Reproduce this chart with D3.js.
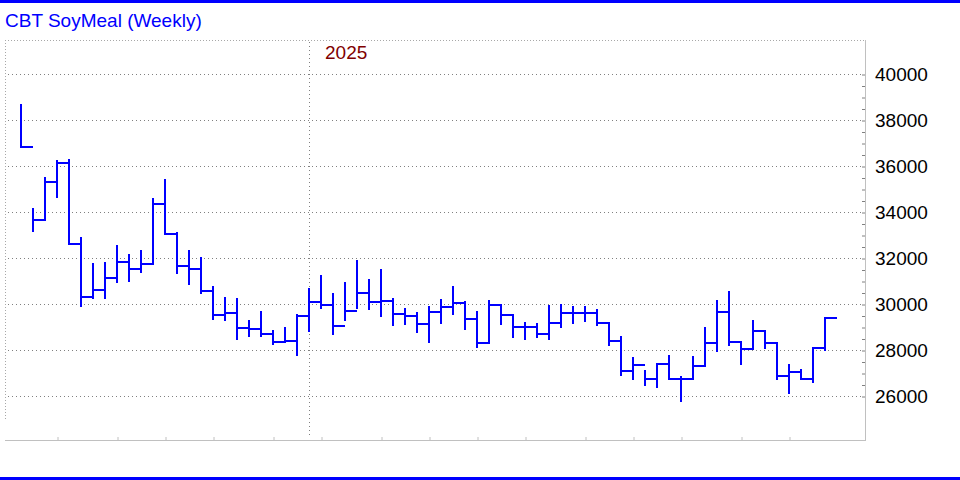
<!DOCTYPE html>
<html>
<head>
<meta charset="utf-8">
<script src="https://cdn.jsdelivr.net/npm/d3@7"></script>
<style>
  html, body { margin: 0; padding: 0; background: #ffffff; }
  svg { display: block; }
  text { font-family: "Liberation Sans", Arial, sans-serif; }
</style>
</head>
<body>
<svg id="chart" width="960" height="480"></svg>
<script>
// ---- data (weekly bars, week ending Friday) ----
const weekEnding = [
  "2024-07-12","2024-07-19","2024-07-26","2024-08-02","2024-08-09","2024-08-16","2024-08-23","2024-08-30",
  "2024-09-06","2024-09-13","2024-09-20","2024-09-27","2024-10-04","2024-10-11","2024-10-18","2024-10-25",
  "2024-11-01","2024-11-08","2024-11-15","2024-11-22","2024-11-29","2024-12-06","2024-12-13","2024-12-20",
  "2024-12-27","2025-01-03","2025-01-10","2025-01-17","2025-01-24","2025-01-31","2025-02-07","2025-02-14",
  "2025-02-21","2025-02-28","2025-03-07","2025-03-14","2025-03-21","2025-03-28","2025-04-04","2025-04-11",
  "2025-04-18","2025-04-25","2025-05-02","2025-05-09","2025-05-16","2025-05-23","2025-05-30","2025-06-06",
  "2025-06-13","2025-06-20","2025-06-27","2025-07-04","2025-07-11","2025-07-18","2025-07-25","2025-08-01",
  "2025-08-08","2025-08-15","2025-08-22","2025-08-29","2025-09-05","2025-09-12","2025-09-19","2025-09-26",
  "2025-10-03","2025-10-10","2025-10-17","2025-10-24"
];
const highs = [
  38650,34130,35470,36220,36260,32860,31730,31770,32520,32130,32300,34570,35390,33070,32300,31990,
  30730,30250,30200,29250,29640,28840,28940,29510,30650,31220,30440,30910,31860,31030,31470,30230,
  29770,29600,29880,30160,30730,30070,29650,30140,29970,29540,29170,29130,29910,29960,29860,29870,
  29750,29190,28550,27640,27070,27410,27730,26810,27680,28940,30120,30510,28360,29250,28840,28290,
  27340,27120,28100,29400
];
const lows = [
  36840,33190,33650,34670,32610,29930,30250,30250,30970,31010,31380,31750,33060,31360,30860,30470,
  29340,29290,28490,28620,28620,28270,28360,27800,28840,29840,28710,29320,29840,29800,29490,29100,
  29140,28800,28360,29190,29580,28930,28140,28320,29140,28580,28490,28550,28490,28990,29190,29270,
  29090,28230,26900,26730,26470,26400,26750,25800,26750,27300,27940,28200,27380,28060,28100,26730,
  26140,26750,26600,27990
];
const closes = [
  36840,33650,35320,36140,32610,30320,30620,31140,31840,31540,31750,34360,33060,31670,31540,30580,
  29540,29620,28970,28930,28710,28360,28390,29470,30090,29970,29060,29710,30490,30100,30140,29580,
  29490,29140,29670,29880,30030,29360,28320,29970,29540,29010,29010,28710,29190,29620,29620,29600,
  29190,28400,27100,27360,26750,27400,26750,26750,27300,28320,29670,28360,28060,28840,28290,26880,
  27060,26750,28100,29400
];
const priceTicks = [26000, 28000, 30000, 32000, 34000, 36000, 38000, 40000];
const priceTickLabels = ["26000","28000","30000","32000","34000","36000","38000","40000"];
const minorStep = 500;
const title = "CBT SoyMeal (Weekly)";
const yearLabel = "2025";

// ---- layout ----
const W = 960, H = 480;
const plot = { left: 5, right: 865, top: 40, bottom: 440 };
const FONT = "19px";

const svg = d3.select("#chart");

const x = d3.scalePoint().domain(weekEnding).range([21, 825]);
const step = x.step();
const y = d3.scaleLinear().domain([26000, 40000]).range([396, 74]);

// blue frame lines
svg.append("rect").attr("x", 0).attr("y", 0).attr("width", W).attr("height", 3).attr("fill", "#0000ff");
svg.append("rect").attr("x", 0).attr("y", 477).attr("width", W).attr("height", 3).attr("fill", "#0000ff");

// title
svg.append("text").attr("x", 5).attr("y", 27)
  .attr("font-size", FONT).attr("fill", "#0000ff").text(title);

// dotted plot border (top + left)
svg.append("line").attr("x1", plot.left).attr("x2", plot.right).attr("y1", 40.5).attr("y2", 40.5)
  .attr("stroke", "#a8a8a8").attr("stroke-dasharray", "1,2");
svg.append("line").attr("x1", 5.5).attr("x2", 5.5).attr("y1", plot.top).attr("y2", 421)
  .attr("stroke", "#a8a8a8").attr("stroke-dasharray", "1,2");

// horizontal grid
svg.append("g").selectAll("line").data(priceTicks).join("line")
  .attr("x1", 8).attr("x2", 862)
  .attr("y1", d => Math.round(y(d)) + 0.5).attr("y2", d => Math.round(y(d)) + 0.5)
  .attr("stroke", "#808080").attr("stroke-dasharray", "1,3");

// year separator
const parse = d3.timeParse("%Y-%m-%d");
const dates = weekEnding.map(parse);
const firstNewYear = dates.findIndex(d => d.getFullYear() === 2025);
const lastOldYear = weekEnding[firstNewYear - 1];
svg.append("line")
  .attr("x1", Math.round(x(lastOldYear)) + 0.5).attr("x2", Math.round(x(lastOldYear)) + 0.5)
  .attr("y1", 42).attr("y2", 437)
  .attr("stroke", "#808080").attr("stroke-dasharray", "1,3");
svg.append("text").attr("x", x(weekEnding[firstNewYear]) + 4).attr("y", 59)
  .attr("font-size", FONT).attr("fill", "#800000").text(yearLabel);

// axes lines
svg.append("line").attr("x1", plot.left).attr("x2", plot.right + 0.5).attr("y1", 440.5).attr("y2", 440.5)
  .attr("stroke", "#c0c0c0");
svg.append("line").attr("x1", 865.5).attr("x2", 865.5).attr("y1", plot.top).attr("y2", 441)
  .attr("stroke", "#c0c0c0");

// month ticks on bottom axis
const monthTicks = weekEnding.filter((d, i) => i > 0 && dates[i].getMonth() !== dates[i - 1].getMonth());
const xAxis = svg.append("g").attr("transform", "translate(0.5,440)")
  .call(d3.axisTop(x).tickValues(monthTicks).tickSize(3).tickFormat(""));
xAxis.select(".domain").remove();
xAxis.selectAll("line").attr("stroke", "#c0c0c0");

// right axis minor ticks
const minorTicks = d3.range(priceTicks[0], priceTicks[priceTicks.length - 1] + 1, minorStep);
const yMinor = svg.append("g").attr("transform", "translate(865,0.5)")
  .call(d3.axisLeft(y).tickValues(minorTicks).tickSize(3).tickFormat(""));
yMinor.select(".domain").remove();
yMinor.selectAll("line").attr("stroke", "#808080");

// right axis labels
const yLab = svg.append("g").attr("transform", "translate(865,0)")
  .call(d3.axisRight(y).tickValues(priceTicks).tickSize(0).tickPadding(10)
    .tickFormat((d, i) => priceTickLabels[i]));
yLab.select(".domain").remove();
yLab.selectAll("text").attr("font-size", FONT).attr("fill", "#000000")
  .attr("font-family", "'Liberation Sans', Arial, sans-serif");

// bars: high-low vertical line + close tick to the right
const bars = svg.append("g").attr("stroke", "#0000ff").attr("stroke-width", 2).attr("fill", "none");
const data = weekEnding.map((d, i) => ({ d, h: highs[i], l: lows[i], c: closes[i] }));
bars.selectAll("path").data(data).join("path")
  .attr("d", b => {
    const bx = Math.round(x(b.d));
    const yh = Math.round(y(b.h)), yl = Math.round(y(b.l)), yc = Math.round(y(b.c));
    return `M${bx},${Math.min(yh, yl, yc) - 1}V${Math.max(yh, yl, yc) + 1}M${bx - 1},${yc}H${bx + step}`;
  });
</script>
</body>
</html>
